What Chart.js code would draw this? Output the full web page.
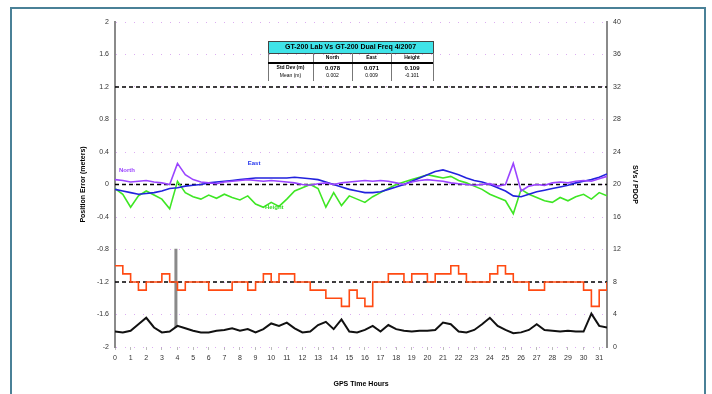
<!DOCTYPE html>
<html>
<head>
<meta charset="utf-8">
<title>GT-200 position error</title>
<script src="https://cdn.jsdelivr.net/npm/chart.js@4/dist/chart.umd.min.js"></script>
<style>
  html, body { margin: 0; padding: 0; background: #fff; }
</style>
</head>
<body>
<canvas id="error-chart" width="712" height="394"></canvas>
<script>
// GPS time axis, one sample every half hour (0 .. 31.5 h)
const hours = Array.from({ length: 64 }, (_, i) => i / 2);

// Position error per component (meters, left axis)
const north = [0.06, 0.05, 0.03, 0.04, 0.05, 0.03, 0.02, 0.0, 0.26, 0.12,
  0.06, 0.03, 0.02, 0.01, 0.03, 0.04, 0.05, 0.06, 0.05, 0.04,
  0.05, 0.04, 0.03, 0.02, 0.0, -0.01, 0.01, 0.02, 0.0, 0.02,
  0.03, 0.04, 0.05, 0.04, 0.05, 0.04, 0.02, 0.0, 0.03, 0.05,
  0.06, 0.05, 0.04, 0.02, 0.01, 0.0, -0.01, 0.0, 0.01, -0.02,
  0.0, 0.26, -0.08, -0.02, 0.0, -0.01, 0.02, 0.03, 0.02, 0.04,
  0.05, 0.04, 0.07, 0.1];
const east = [-0.06, -0.08, -0.1, -0.12, -0.11, -0.1, -0.08, -0.05, -0.04, -0.02,
  -0.01, 0.0, 0.02, 0.03, 0.04, 0.05, 0.06, 0.07, 0.08, 0.08,
  0.08, 0.08, 0.08, 0.09, 0.08, 0.07, 0.06, 0.03, 0.0, -0.03,
  -0.06, -0.08, -0.1, -0.1, -0.09, -0.06, -0.03, 0.0, 0.04, 0.08,
  0.12, 0.16, 0.18, 0.15, 0.12, 0.08, 0.05, 0.03, 0.0, -0.04,
  -0.08, -0.14, -0.15, -0.12, -0.09, -0.07, -0.05, -0.03, -0.01, 0.02,
  0.04, 0.06, 0.09, 0.13];
const height = [-0.05, -0.12, -0.28, -0.14, -0.08, -0.13, -0.18, -0.3, 0.04, -0.1,
  -0.15, -0.18, -0.13, -0.17, -0.12, -0.16, -0.19, -0.14, -0.24, -0.28,
  -0.22, -0.27, -0.18, -0.08, -0.04, 0.0, -0.05, -0.28, -0.1, -0.26,
  -0.14, -0.18, -0.22, -0.15, -0.1, -0.05, 0.0, 0.03, 0.06, 0.09,
  0.12, 0.1, 0.08, 0.1, 0.05, 0.02, -0.02, -0.06, -0.12, -0.16,
  -0.2, -0.36, -0.06, -0.12, -0.16, -0.2, -0.22, -0.16, -0.2, -0.15,
  -0.12, -0.18, -0.1, -0.14];

// Satellites in view and PDOP (right axis)
const svCount = [10, 9, 8, 7, 8, 8, 9, 8, 7, 8,
  8, 8, 7, 7, 7, 8, 8, 7, 8, 9,
  8, 9, 9, 8, 8, 7, 7, 6, 6, 5,
  7, 6, 5, 8, 8, 9, 9, 8, 9, 9,
  8, 9, 9, 10, 9, 8, 8, 8, 9, 10,
  9, 8, 8, 7, 7, 8, 8, 8, 8, 8,
  7, 5, 7, 8];
const pdop = [1.9, 1.8, 2.0, 2.8, 3.6, 2.4, 1.8, 1.9, 2.6, 2.3,
  2.0, 1.8, 1.8, 2.0, 2.1, 2.3, 2.0, 2.2, 1.8, 2.2,
  2.9, 2.6, 3.0, 2.3, 1.8, 1.9, 2.7, 3.1, 2.2, 3.4,
  1.9, 1.8, 2.1, 2.6, 1.9, 2.7, 2.2, 2.0, 1.9, 2.0,
  2.0, 2.1, 3.0, 2.8, 1.9, 1.8, 2.1, 2.8, 3.6, 2.6,
  2.1, 1.7, 1.8, 2.1, 2.8, 2.1, 2.0, 1.9, 2.0, 1.9,
  1.9, 4.1, 2.6, 2.4];

// PDOP spike shown as a grey bar
const spikeHour = 3.9;
const spikeRange = [12.1, 2.4];

// Dashed reference levels (meters)
const refLevels = [1.2, 0, -1.2];

// Summary table
const tableTitle = 'GT-200 Lab Vs GT-200 Dual Freq 4/2007';
const tableColumns = ['North', 'East', 'Height'];
const tableRowNames = ['Std Dev (m)', 'Mean (m)'];
const tableStd = ['0.078', '0.071', '0.109'];
const tableMean = ['0.002', '0.009', '-0.101'];

const FONT = '"Liberation Sans", Arial, sans-serif';

function toPoints(values) {
  return hours.map((h, i) => ({ x: h, y: values[i] }));
}

// Frame, summary table and series names
const decorPlugin = {
  id: 'decor',
  beforeDraw(chart) {
    const ctx = chart.ctx;
    ctx.save();
    ctx.strokeStyle = '#4a8197';
    ctx.lineWidth = 2;
    ctx.strokeRect(11, 8, 694, 400);
    ctx.restore();
  },
  afterDraw(chart) {
    const ctx = chart.ctx;
    drawSummaryTable(ctx);

    const xs = chart.scales.x, ys = chart.scales.y;
    ctx.save();
    ctx.font = 'bold 6px ' + FONT;
    ctx.textBaseline = 'middle';
    ctx.fillStyle = '#9a44ff';
    ctx.fillText('North', xs.getPixelForValue(0.25), ys.getPixelForValue(0.17));
    ctx.fillStyle = '#2233ee';
    ctx.fillText('East', xs.getPixelForValue(8.5), ys.getPixelForValue(0.26));
    ctx.fillStyle = '#33dd22';
    ctx.fillText('Height', xs.getPixelForValue(9.6), ys.getPixelForValue(-0.285));
    ctx.restore();
  }
};

function drawSummaryTable(ctx) {
  const left = 268, top = 41, right = 433;
  const cols = [268, 313, 352, 391, 433];
  ctx.save();
  // header band
  ctx.fillStyle = '#3fe3e8';
  ctx.fillRect(left, top, right - left, 12);
  ctx.strokeStyle = '#444';
  ctx.lineWidth = 1;
  ctx.strokeRect(left + 0.5, top + 0.5, right - left, 12);
  ctx.fillStyle = '#000';
  ctx.font = 'bold 7px ' + FONT;
  ctx.textAlign = 'center';
  ctx.textBaseline = 'middle';
  ctx.fillText(tableTitle, (left + right) / 2, top + 6.5);

  // column separators
  ctx.strokeStyle = '#777';
  for (const cx of cols) {
    ctx.beginPath();
    ctx.moveTo(cx + 0.5, top + 12);
    ctx.lineTo(cx + 0.5, top + 40);
    ctx.stroke();
  }
  // heavy rule under the column names
  ctx.strokeStyle = '#000';
  ctx.lineWidth = 2;
  ctx.beginPath();
  ctx.moveTo(left, top + 22);
  ctx.lineTo(right, top + 22);
  ctx.stroke();

  ctx.font = 'bold 5px ' + FONT;
  tableColumns.forEach((name, i) => {
    ctx.fillText(name, (cols[i + 1] + cols[i + 2]) / 2, top + 17);
  });
  ctx.fillText(tableRowNames[0], (cols[0] + cols[1]) / 2, top + 27);
  ctx.font = '5px ' + FONT;
  ctx.fillText(tableRowNames[1], (cols[0] + cols[1]) / 2, top + 35);
  tableStd.forEach((v, i) => {
    ctx.font = 'bold 6px ' + FONT;
    ctx.fillText(v, (cols[i + 1] + cols[i + 2]) / 2, top + 27);
    ctx.font = '5px ' + FONT;
    ctx.fillText(tableMean[i], (cols[i + 1] + cols[i + 2]) / 2, top + 35);
  });
  ctx.restore();
}

// Data series
const datasets = [
  { label: 'North', data: toPoints(north), borderColor: '#9a44ff', yAxisID: 'y' },
  { label: 'East', data: toPoints(east), borderColor: '#2222dd', yAxisID: 'y' },
  { label: 'Height', data: toPoints(height), borderColor: '#3ee624', yAxisID: 'y' },
  { label: 'SVs', data: toPoints(svCount), borderColor: '#ff4a12', yAxisID: 'y2', stepped: true },
  { label: 'PDOP', data: toPoints(pdop), borderColor: '#111', yAxisID: 'y2', borderWidth: 2 },
  {
    label: 'PDOP spike', yAxisID: 'y2', borderColor: '#8a8a8a', borderWidth: 3,
    data: spikeRange.map(v => ({ x: spikeHour, y: v }))
  }
];
refLevels.forEach(level => {
  datasets.push({
    label: 'ref ' + level, yAxisID: 'y', borderColor: '#000', borderWidth: 1.5,
    borderDash: [4, 3],
    data: [{ x: 0, y: level }, { x: 31.5, y: level }]
  });
});
datasets.forEach(ds => {
  if (ds.borderWidth === undefined) ds.borderWidth = 1.6;
  ds.pointRadius = 0;
  ds.tension = 0;
  ds.fill = false;
});

const tickFont = { family: FONT, size: 7 };
const titleFont = { family: FONT, size: 7, weight: 'bold' };

const config = {
  type: 'line',
  data: { datasets: datasets },
  options: {
    responsive: false,
    animation: false,
    devicePixelRatio: 1,
    layout: { padding: { left: 75, right: 73, top: 22, bottom: 0 } },
    plugins: { legend: { display: false }, tooltip: { enabled: false } },
    scales: {
      x: {
        type: 'linear', min: 0, max: 31.5,
        ticks: { stepSize: 1, includeBounds: false, autoSkip: false, maxRotation: 0, font: tickFont, color: '#333', padding: 4 },
        grid: { drawOnChartArea: false, tickLength: 3, color: '#bbb' },
        border: { display: false },
        title: { display: true, text: 'GPS Time Hours', font: titleFont, color: '#000', padding: { top: 0, bottom: 6 } },
        afterFit: s => { s.height = 47; }
      },
      y: {
        position: 'left', min: -2, max: 2,
        ticks: {
          stepSize: 0.4, font: tickFont, color: '#333', padding: 6,
          callback: v => String(Number(v.toFixed(1)))
        },
        grid: { color: 'rgba(205,140,235,0.7)', drawTicks: false },
        border: { display: true, color: '#8a8a8a', width: 2, dash: [1, 8] },
        title: { display: true, text: 'Position Error (meters)', font: titleFont, color: '#000', padding: { top: 4, bottom: 0 } },
        afterFit: s => { s.width = 40; }
      },
      y2: {
        position: 'right', min: 0, max: 40,
        ticks: { stepSize: 4, font: tickFont, color: '#333', padding: 6 },
        grid: { display: false, drawTicks: false },
        border: { display: true, color: '#8a8a8a', width: 2 },
        title: { display: true, text: 'SVs / PDOP', font: titleFont, color: '#000', padding: 0 },
        afterFit: s => { s.width = 32; }
      }
    }
  },
  plugins: [decorPlugin]
};

const ctx = document.getElementById('error-chart').getContext('2d');
new Chart(ctx, config);
</script>
</body>
</html>
